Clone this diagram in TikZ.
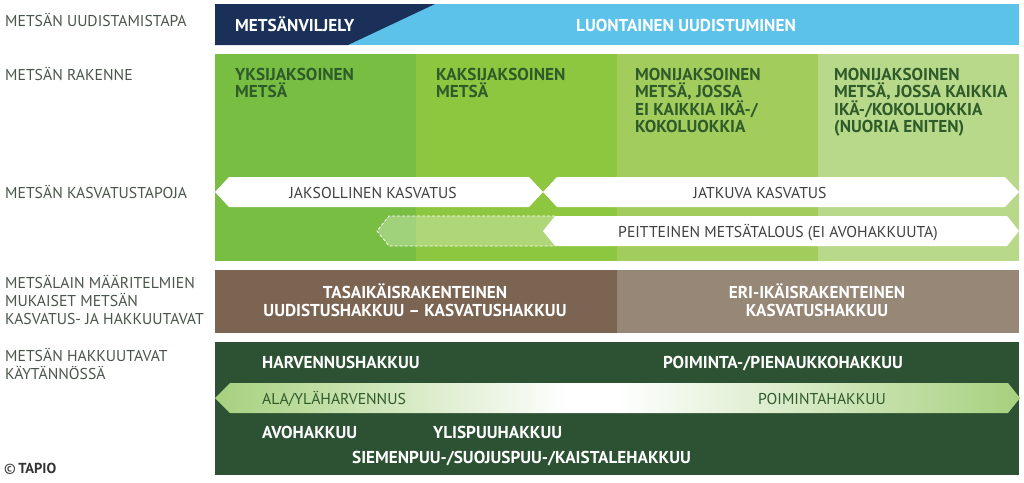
\documentclass[tikz,border=0pt]{standalone}
\usepackage{fontspec}
\setmainfont{PT Sans}
\definecolor{navy}{HTML}{1A3058}
\definecolor{skyb}{HTML}{5DC2E9}
\definecolor{gA}{HTML}{78BE43}
\definecolor{gB}{HTML}{8DC63F}
\definecolor{gC}{HTML}{A2CD5D}
\definecolor{gD}{HTML}{B8D98A}
\definecolor{brA}{HTML}{7B6452}
\definecolor{brB}{HTML}{968777}
\definecolor{dkg}{HTML}{2C5233}
\definecolor{gtxt}{HTML}{2F5B2B}
\definecolor{lblc}{HTML}{4A554B}
\definecolor{lg}{HTML}{A6D07E}
\pgfdeclarehorizontalshading{gbar}{100bp}{color(0bp)=(lg); color(25bp)=(lg); color(47bp)=(white); color(50bp)=(white); color(75bp)=(lg); color(100bp)=(lg)}
\newcommand{\regf}{\fontsize{15.7}{18}\selectfont}
\newcommand{\bldf}{\bfseries\fontsize{17.2}{18}\selectfont}
\tikzset{
  lbl/.style={anchor=base west, inner sep=0pt, text=lblc, font=\regf},
  gt/.style={anchor=base west, inner sep=0pt, text=gtxt, font=\bldf},
  wt/.style={anchor=base, inner sep=0pt, text=white, font=\bldf},
  wtl/.style={anchor=base west, inner sep=0pt, text=white, font=\bldf},
  atxt/.style={anchor=base, inner sep=0pt, text=black!75, font=\regf},
  atxtl/.style={anchor=base west, inner sep=0pt, text=gtxt, font=\regf},
  arrw/.style={fill=white},
}
\begin{document}
\begin{tikzpicture}[x=1pt,y=-1pt]
\useasboundingbox (0,0) rectangle (1024,482);
\fill[white] (0,0) rectangle (1024,482);
% top bar
\fill[skyb] (215,4) rectangle (1019,45);
\fill[navy] (215,4) -- (435,4) -- (348,45) -- (215,45) -- cycle;
\node[wtl] (mv) at (235,31) {METSÄNVILJELY};
\node[wt] (lu) at (686,31) {LUONTAINEN UUDISTUMINEN};
% green columns
\fill[gA] (215,54) rectangle (416,261);
\fill[gB] (416,54) rectangle (617,261);
\fill[gC] (617,54) rectangle (818,261);
\fill[gD] (818,54) rectangle (1019,261);
\node[gt] (c1a) at (235,80) {YKSIJAKSOINEN};
\node[gt] (c1b) at (235,97.5) {METSÄ};
\node[gt] (c2a) at (436,80) {KAKSIJAKSOINEN};
\node[gt] (c2b) at (436,97.5) {METSÄ};
\node[gt] (c3a) at (635,80) {MONIJAKSOINEN};
\node[gt] (c3b) at (635,97.5) {METSÄ, JOSSA};
\node[gt] (c3c) at (635,115) {EI KAIKKIA IKÄ-/};
\node[gt] (c3d) at (635,132.5) {KOKOLUOKKIA};
\node[gt] (c4a) at (834,80) {MONIJAKSOINEN};
\node[gt] (c4b) at (834,97.5) {METSÄ, JOSSA KAIKKIA};
\node[gt] (c4c) at (834,115) {IKÄ-/KOKOLUOKKIA};
\node[gt] (c4d) at (834,132.5) {(NUORIA ENITEN)};
% arrows row 1
\fill[arrw] (215,192) -- (229,177) -- (529,177) -- (543,192) -- (529,207) -- (229,207) -- cycle;
\fill[arrw] (543,192) -- (557,177) -- (1005,177) -- (1019,192) -- (1005,207) -- (557,207) -- cycle;
\node[atxt] (jk) at (373,198) {JAKSOLLINEN KASVATUS};
\node[atxt] (jt) at (760,198) {JATKUVA KASVATUS};
% arrows row 2
\fill[white, fill opacity=0.3] (377,231) -- (389,216) -- (555,216) -- (543,231) -- (555,246) -- (389,246) -- cycle;
\draw[white, dash pattern=on 3pt off 2pt, line width=0.8pt] (555,216) -- (389,216) -- (377,231) -- (389,246) -- (555,246);
\fill[arrw] (543,231) -- (555,216) -- (1007,216) -- (1019,231) -- (1007,246) -- (555,246) -- cycle;
\node[atxt] (pm) at (778,237) {PEITTEINEN METSÄTALOUS (EI AVOHAKKUUTA)};
% brown row
\fill[brA] (215,270) rectangle (617,333);
\fill[brB] (617,270) rectangle (1019,333);
\node[wt] (ta) at (415,298) {TASAIKÄISRAKENTEINEN};
\node[wt] (tb) at (415,316) {UUDISTUSHAKKUU – KASVATUSHAKKUU};
\node[wt] (ea) at (817,298) {ERI-IKÄISRAKENTEINEN};
\node[wt] (eb) at (817,316) {KASVATUSHAKKUU};
% dark green row
\fill[dkg] (215,342) rectangle (1019,475);
\node[wtl] (hv) at (262,368) {HARVENNUSHAKKUU};
\node[wt] (pp) at (783,368) {POIMINTA-/PIENAUKKOHAKKUU};
\shade[shading=gbar] (215,398) -- (230,383) -- (1008,383) -- (1020,398) -- (1008,413) -- (230,413) -- cycle;
\node[atxtl] (ay) at (262,404) {ALA/YLÄHARVENNUS};
\node[atxt, text=gtxt] (ph) at (822,404) {POIMINTAHAKKUU};
\node[wtl] (av) at (262,438) {AVOHAKKUU};
\node[wtl] (yl) at (433,438) {YLISPUUHAKKUU};
\node[wtl] (si) at (352,463) {SIEMENPUU-/SUOJUSPUU-/KAISTALEHAKKUU};
% left labels
\node[lbl] (l1) at (5,26.5) {METSÄN UUDISTAMISTAPA};
\node[lbl] (l2) at (5,80) {METSÄN RAKENNE};
\node[lbl] (l3) at (5,198) {METSÄN KASVATUSTAPOJA};
\node[lbl] (l4a) at (5,288) {METSÄLAIN MÄÄRITELMIEN};
\node[lbl] (l4b) at (5,306) {MUKAISET METSÄN};
\node[lbl] (l4c) at (5,324) {KASVATUS- JA HAKKUUTAVAT};
\node[lbl] (l5a) at (5,361) {METSÄN HAKKUUTAVAT};
\node[lbl] (l5b) at (5,379) {KÄYTÄNNÖSSÄ};
\node[lbl, text=black!80, font=\fontsize{14.5}{16}\selectfont] (l6) at (4,473) {©\,\textbf{TAPIO}};
\end{tikzpicture}
\end{document}
